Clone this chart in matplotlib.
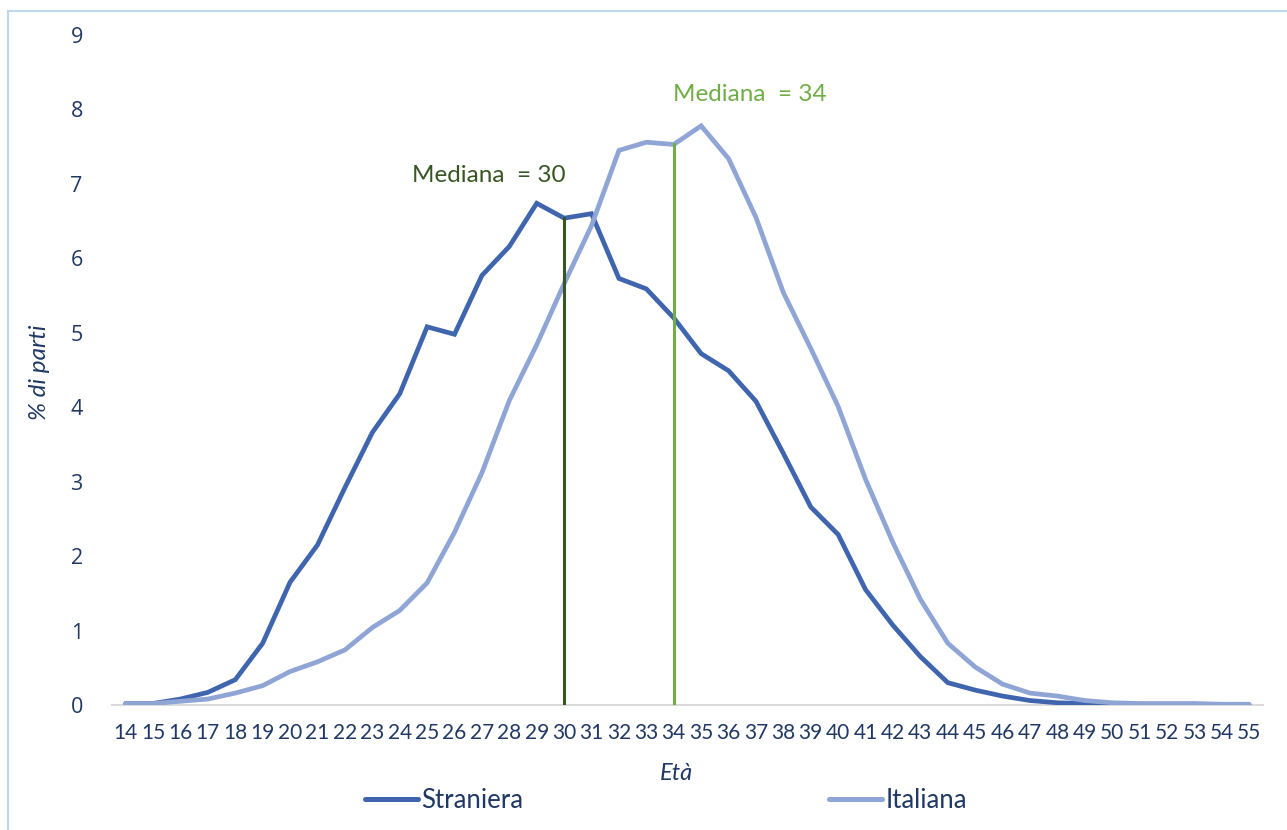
import matplotlib
matplotlib.use("Agg")
import matplotlib.pyplot as plt
from matplotlib.lines import Line2D

# Età della madre e percentuale di parti
eta = list(range(14, 56))
straniera = [0.02, 0.02, 0.08, 0.17, 0.34, 0.83, 1.65, 2.15, 2.92, 3.66,
             4.18, 5.08, 4.98, 5.77, 6.16, 6.74, 6.54, 6.60, 5.73, 5.59,
             5.20, 4.72, 4.49, 4.08, 3.38, 2.66, 2.29, 1.55, 1.07, 0.65,
             0.30, 0.20, 0.12, 0.06, 0.03, 0.02, 0.01, 0.01, 0.01, 0.01,
             0.00, 0.00]
italiana = [0.02, 0.02, 0.05, 0.08, 0.16, 0.26, 0.45, 0.58, 0.74, 1.04,
            1.27, 1.64, 2.32, 3.12, 4.09, 4.84, 5.66, 6.44, 7.45, 7.56,
            7.53, 7.78, 7.34, 6.55, 5.54, 4.79, 4.01, 3.03, 2.18, 1.42,
            0.83, 0.51, 0.28, 0.16, 0.12, 0.06, 0.03, 0.02, 0.02, 0.02,
            0.01, 0.01]
mediana_straniera = 30
mediana_italiana = 34

C_STR = "#3F65AF"
C_ITA = "#8FA5D6"
C_MED_STR = "#375623"
C_MED_ITA = "#70AD47"
NAVY = "#1F3864"
FONT = "Lato"

fig = plt.figure(figsize=(12.87, 8.3), dpi=100)
ax = fig.add_axes([0.087, 0.1506, 0.8943, 0.8072])

ax.plot(eta, straniera, color=C_STR, lw=3.4, solid_joinstyle="miter",
        solid_capstyle="round", zorder=3)
ax.plot(eta, italiana, color=C_ITA, lw=3.4, solid_joinstyle="miter",
        solid_capstyle="round", zorder=3)

# Linee della mediana, fino alla curva corrispondente
y_med_s = straniera[eta.index(mediana_straniera)]
y_med_i = italiana[eta.index(mediana_italiana)]
ax.plot([mediana_straniera, mediana_straniera], [0, y_med_s],
        color=C_MED_STR, lw=2.2, zorder=4)
ax.plot([mediana_italiana, mediana_italiana], [0, y_med_i],
        color=C_MED_ITA, lw=2.2, zorder=4)

ax.text(27.25, 7.11, f"Mediana  = {mediana_straniera}", color=C_MED_STR,
        fontsize=17.5, family=FONT, ha="center", va="center")
ax.text(36.77, 8.2, f"Mediana  = {mediana_italiana}", color=C_MED_ITA,
        fontsize=17.5, family=FONT, ha="center", va="center")

ax.set_xlim(13.5, 55.5)
ax.set_ylim(0, 9)
ax.set_xticks(eta)
ax.set_xticklabels([str(e) for e in eta], family=FONT, fontsize=15,
                   color=NAVY)
ax.set_yticks(range(0, 10))
ax.set_yticklabels([str(v) for v in range(0, 10)], family="Open Sans",
                   fontsize=15.5, color=NAVY)
ax.tick_params(axis="x", length=0, pad=13)
ax.tick_params(axis="y", length=0, pad=21)
for side in ("top", "right", "left"):
    ax.spines[side].set_visible(False)
ax.spines["bottom"].set_color("#D9D9D9")
ax.spines["bottom"].set_linewidth(1.4)
ax.spines["bottom"].set_zorder(1)

fig.text(40 / 1287, 1 - 372 / 830, "% di parti", rotation=90, ha="center",
         va="center", fontsize=17.5, style="italic", family=FONT, color=NAVY)
fig.text(676 / 1287, 1 - 773 / 830, "Età", ha="center", va="center",
         fontsize=17, style="italic", family=FONT, color=NAVY)

handles = [Line2D([], [], color=C_STR, lw=3.6, solid_capstyle="round"),
           Line2D([], [], color=C_ITA, lw=3.6, solid_capstyle="round")]
fig.legend(handles, ["Straniera", "Italiana"], loc="center",
           bbox_to_anchor=(666 / 1287, 1 - 800 / 830), ncol=2, frameon=False,
           prop={"family": FONT, "size": 18.5}, labelcolor=NAVY,
           handlelength=2.06, handletextpad=0.15, columnspacing=11.9)

# Cornice esterna
fig.add_artist(Line2D([8 / 1287, 8 / 1287], [0, 1 - 11 / 830],
                      transform=fig.transFigure, color="#BDD7EE", lw=1.5))
fig.add_artist(Line2D([8 / 1287, 1], [1 - 11 / 830, 1 - 11 / 830],
                      transform=fig.transFigure, color="#BDD7EE", lw=1.5))

fig.savefig("out.png", dpi=100, facecolor="white")
